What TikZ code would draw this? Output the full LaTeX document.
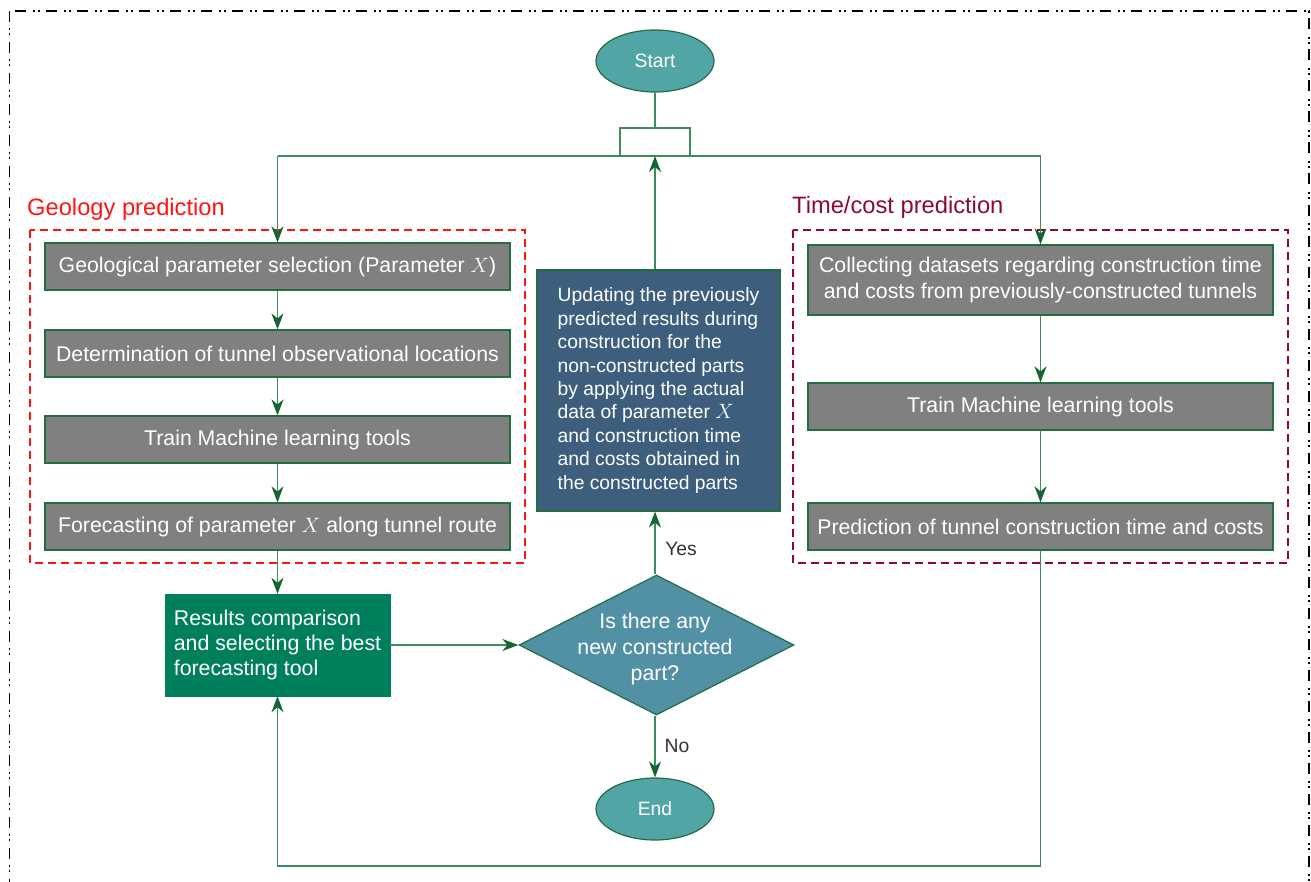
\documentclass[tikz,border=0pt]{standalone}
\usepackage{fontspec}
\setmainfont{Liberation Sans}
\usetikzlibrary{shapes.geometric,arrows.meta}
\definecolor{tealfill}{RGB}{82,165,165}
\definecolor{boxgray}{RGB}{128,128,128}
\definecolor{resgreen}{RGB}{0,127,92}
\definecolor{diafill}{RGB}{82,144,165}
\definecolor{updfill}{RGB}{61,95,125}
\definecolor{bordergreen}{RGB}{35,110,65}
\definecolor{linegreen}{RGB}{60,140,95}
\definecolor{arrowgreen}{RGB}{22,100,50}
\definecolor{geored}{RGB}{255,20,20}
\definecolor{timered}{RGB}{140,10,45}
\definecolor{labelgray}{RGB}{50,50,50}
\begin{document}
\begin{tikzpicture}[x=1pt,y=-1pt,
  box/.style={draw=bordergreen, line width=1.2pt, fill=boxgray, text=white,
    font=\fontsize{21.3}{26}\selectfont, minimum width=465pt, minimum height=47pt,
    inner sep=0pt, align=center},
  resbox/.style={draw=resgreen, fill=resgreen, text=white,
    font=\fontsize{21.3}{25}\selectfont, minimum width=225pt, minimum height=102pt,
    inner sep=0pt, align=left},
  updbox/.style={draw=bordergreen, line width=1.2pt, fill=updfill, text=white,
    font=\fontsize{19.3}{23.4}\selectfont, minimum width=243pt, minimum height=241pt,
    inner sep=0pt, align=left},
  ell/.style={ellipse, draw=bordergreen, line width=1.2pt, fill=tealfill, text=white,
    font=\fontsize{19.3}{23}\selectfont, minimum width=118pt, minimum height=62pt, inner sep=0pt},
  dia/.style={diamond, draw=bordergreen, line width=1.2pt, fill=diafill,
    minimum width=275pt, minimum height=140pt, inner sep=0pt},
  diatext/.style={text=white, font=\fontsize{21.3}{26}\selectfont, align=center, inner sep=0pt},
  lbl/.style={text=labelgray, font=\fontsize{19.3}{23}\selectfont, inner sep=0pt},
  line/.style={draw=linegreen, line width=1.3pt},
  arr/.style={draw=linegreen, line width=1.3pt,
    -{Stealth[length=16pt,width=12pt,inset=5pt,color=arrowgreen,fill=arrowgreen]}},
  grp/.style={line width=1.2pt, dash pattern=on 8pt off 5pt}
]
\useasboundingbox (0,0) rectangle (1311,882);
\begin{scope}
  \clip (0,0) rectangle (1311,882);
  \draw[line width=1.3pt, dash pattern=on 11pt off 5.7pt on 2pt off 3pt on 2pt off 7.3pt]
    (9.5,11) rectangle (1309,905);
\end{scope}

% group frames and titles
\draw[grp, draw=geored] (30,230) rectangle (525,563);
\draw[grp, draw=timered] (793,230) rectangle (1288,563);
\node[anchor=base west, text=geored, font=\fontsize{23.7}{28}\selectfont, inner sep=0pt] (geotitle) at (27,216) {Geology prediction};
\node[anchor=base west, text=timered, font=\fontsize{23.7}{28}\selectfont, inner sep=0pt] (timetitle) at (792,214) {Time/cost prediction};

% nodes
\node[ell] (start) at (655,61) {Start};
\node[box] (g1) at (277.5,266.5) {Geological parameter selection (Parameter $X$)};
\node[box] (g2) at (277.5,353.5) {Determination of tunnel observational locations};
\node[box] (g3) at (277.5,439.5) {Train Machine learning tools};
\node[box] (g4) at (277.5,526.5) {Forecasting of parameter $X$ along tunnel route};
\node[resbox] (res) at (277.5,645) {Results comparison\\and selecting the best\\forecasting tool};
\node[dia] (q) at (656.5,645) {};
\node[diatext] (qt) at (655,649) {Is there any\\new constructed\\part?};
\node[updbox] (upd) at (658.5,390.5) {Updating the previously\\predicted results during\\construction for the\\non-constructed parts\\by applying the actual\\data of parameter $X$\\and construction time\\and costs obtained in\\the constructed parts};
\node[ell] (end) at (655,809) {End};
\node[box, minimum height=70pt] (t1) at (1040.5,280) {Collecting datasets regarding construction time\\and costs from previously-constructed tunnels};
\node[box] (t2) at (1040.5,406.5) {Train Machine learning tools};
\node[box] (t3) at (1040.5,526.5) {Prediction of tunnel construction time and costs};
\node[lbl] (yes) at (681,549) {Yes};
\node[lbl] (no) at (677,746) {No};

% connectors
\coordinate (bt) at (655,128);
\coordinate (bl) at (620,156);
\coordinate (brr) at (690,156);
\coordinate (top) at (655,156);
\coordinate (hl) at (277.5,156);
\coordinate (hr) at (1040.5,156);
\coordinate (lb) at (1040.5,866);
\draw[line] (start.south) -- (bt);
\draw[line] (bl) |- (bt) -| (brr);
\draw[line] (hl) -- (hr);
\draw[arr] (hl) -- (g1.north);
\draw[arr] (hr) -- (t1.north);
\draw[arr] (g1) -- (g2);
\draw[arr] (g2) -- (g3);
\draw[arr] (g3) -- (g4);
\draw[arr] (g4) -- (res);
\draw[arr] (res.east) -- (q.west);
\draw[arr] (top |- q.north) -- (top |- upd.south);
\draw[arr] (upd.north -| top) -- (top);
\draw[arr] (top |- q.south) -- (end.north);
\draw[arr] (t1) -- (t2);
\draw[arr] (t2) -- (t3);
\draw[arr] (t3.south) -- (lb) -| (res.south);
\end{tikzpicture}
\end{document}
